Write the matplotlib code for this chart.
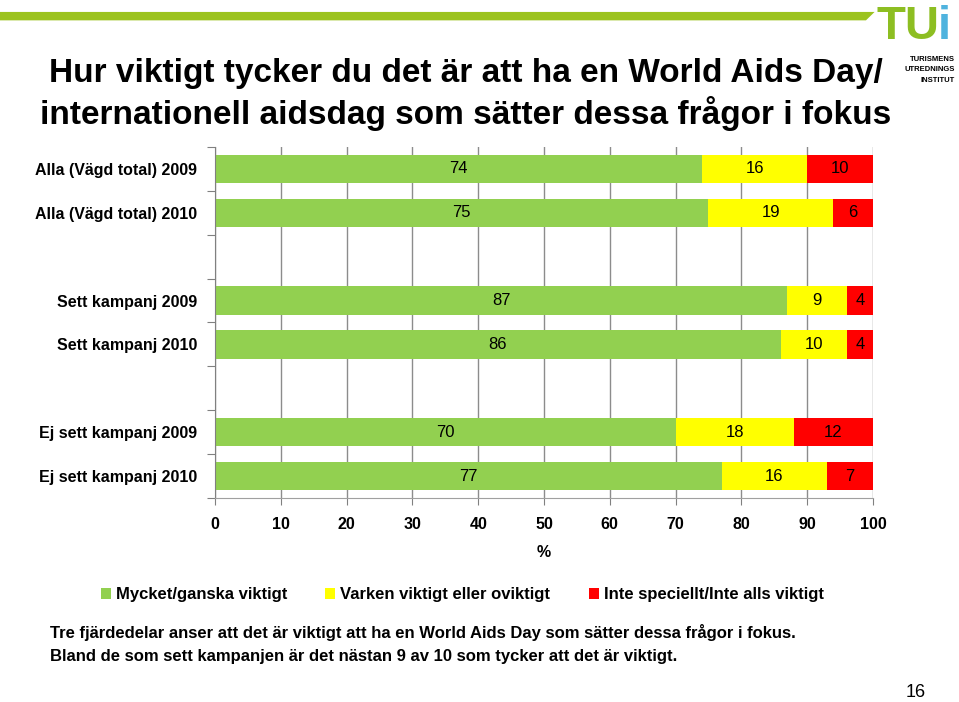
import matplotlib.pyplot as plt
from matplotlib.patches import Polygon
import numpy as np

# data
categories = ['Alla (Vägd total) 2009', 'Alla (Vägd total) 2010', '',
              'Sett kampanj 2009', 'Sett kampanj 2010', '',
              'Ej sett kampanj 2009', 'Ej sett kampanj 2010']
viktigt = [74, 75, None, 87, 86, None, 70, 77]
varken = [16, 19, None, 9, 10, None, 18, 16]
inte = [10, 6, None, 4, 4, None, 12, 7]
series_names = ['Mycket/ganska viktigt', 'Varken viktigt eller oviktigt',
                'Inte speciellt/Inte alls viktigt']
colors = ['#92D050', '#FFFF00', '#FF0000']
xticks = [0, 10, 20, 30, 40, 50, 60, 70, 80, 90, 100]

narrow = ['Liberation Sans Narrow', 'Liberation Sans', 'DejaVu Sans']
plt.rcParams['font.family'] = ['Liberation Sans', 'DejaVu Sans']

fig = plt.figure(figsize=(9.59, 7.02), dpi=100)

# top decoration band and logo
band = Polygon([[0, 0.983], [0.912, 0.983], [0.903, 0.971], [0, 0.971]],
               closed=True, transform=fig.transFigure, color='#9CC31F', lw=0)
fig.patches.append(band)
fig.text(0.947, 0.962, 'TU', color='#8DBE22', fontsize=34, fontweight='bold',
         family=narrow, ha='center', va='center')
fig.text(0.985, 0.962, 'i', color='#4FB3DE', fontsize=34, fontweight='bold',
         family=narrow, ha='center', va='center')
fig.text(0.996, 0.915, 'TURISMENS', fontsize=5.5, fontweight='bold', ha='right', va='center')
fig.text(0.996, 0.901, 'UTREDNINGS', fontsize=5.5, fontweight='bold', ha='right', va='center')
fig.text(0.996, 0.886, 'INSTITUT', fontsize=5.5, fontweight='bold', ha='right', va='center')

# title
fig.text(0.486, 0.896, 'Hur viktigt tycker du det är att ha en World Aids Day/',
         fontsize=24, fontweight='bold', family=narrow, ha='center', va='center')
fig.text(0.486, 0.839, 'internationell aidsdag som sätter dessa frågor i fokus',
         fontsize=24, fontweight='bold', family=narrow, ha='center', va='center')

ax = fig.add_axes([0.2242, 0.2906, 0.6861, 0.5000])
y = np.arange(len(categories))
idx = [i for i, v in enumerate(viktigt) if v is not None]
g = np.array([viktigt[i] for i in idx])
ye = np.array([varken[i] for i in idx])
r = np.array([inte[i] for i in idx])
yy = y[idx]
h = 0.65
b1 = ax.barh(yy, g, height=h, color=colors[0], label=series_names[0], zorder=2)
b2 = ax.barh(yy, ye, left=g, height=h, color=colors[1], label=series_names[1], zorder=2)
b3 = ax.barh(yy, r, left=g + ye, height=h, color=colors[2], label=series_names[2], zorder=2)
for bars in (b1, b2, b3):
    ax.bar_label(bars, label_type='center', fontsize=12)

ax.set_ylim(len(categories) - 0.5, -0.5)
ax.set_xlim(0, 100)
ax.set_yticks(np.arange(len(categories) + 1) - 0.5)
ax.set_yticklabels([])
ax.set_yticks(y, minor=True)
ax.set_yticklabels(categories, minor=True, fontsize=11.5, fontweight='bold')
ax.tick_params(axis='y', which='minor', length=0, pad=13)
ax.tick_params(axis='y', which='major', length=6, color='#808080')
ax.set_xticks(xticks)
ax.set_xticklabels([str(t) for t in xticks], fontsize=11.5, fontweight='bold')
ax.tick_params(axis='x', length=5, color='#808080', pad=9)
ax.grid(axis='x', color='#8C8C8C', lw=1, zorder=0)
for s in ['top', 'right']:
    ax.spines[s].set_visible(False)
ax.spines['left'].set_color('#808080')
ax.spines['bottom'].set_color('#A0A0A0')
ax.set_xlabel('%', fontsize=11.5, fontweight='bold', labelpad=9)

fig.legend(handles=[b1, b2, b3], loc='center', bbox_to_anchor=(0.482, 0.153),
           ncol=3, frameon=False, handlelength=0.6, handleheight=0.6,
           handletextpad=0.3, columnspacing=2.3,
           prop={'weight': 'bold', 'size': 12})

fig.text(0.052, 0.099, 'Tre fjärdedelar anser att det är viktigt att ha en World Aids Day som sätter dessa frågor i fokus.',
         fontsize=12, fontweight='bold', ha='left', va='center')
fig.text(0.052, 0.065, 'Bland de som sett kampanjen är det nästan 9 av 10 som tycker att det är viktigt.',
         fontsize=12, fontweight='bold', ha='left', va='center')
fig.text(0.955, 0.013, '16', fontsize=13, ha='center', va='center')

fig.savefig('out.png', dpi=100)
